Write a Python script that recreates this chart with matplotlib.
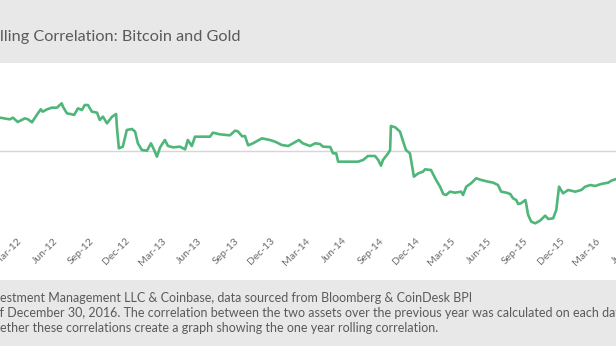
import pandas as pd
import matplotlib
matplotlib.use("Agg")
import matplotlib.pyplot as plt
import matplotlib.dates as mdates
from matplotlib.patches import Rectangle

# one year rolling correlation
dates = [
    "2012-01-03", "2012-01-28", "2012-02-05", "2012-02-17", "2012-03-06", "2012-03-14",
    "2012-03-24", "2012-03-26", "2012-04-05", "2012-04-15", "2012-04-20", "2012-05-01",
    "2012-05-13", "2012-05-26", "2012-06-02", "2012-06-07", "2012-06-10", "2012-06-20",
    "2012-07-03", "2012-07-08", "2012-07-18", "2012-07-28", "2012-08-04", "2012-08-12",
    "2012-08-22", "2012-09-04", "2012-09-11", "2012-09-19", "2012-09-29", "2012-10-12",
    "2012-10-22", "2012-10-24", "2012-10-29", "2012-11-08", "2012-11-18", "2012-12-01",
    "2012-12-09", "2012-12-16", "2012-12-26", "2013-01-08", "2013-01-18", "2013-01-26",
    "2013-02-02", "2013-02-10", "2013-02-22", "2013-03-02", "2013-03-15", "2013-04-01",
    "2013-04-14", "2013-04-21", "2013-05-01", "2013-05-09", "2013-06-16", "2013-06-23",
    "2013-07-11", "2013-08-05", "2013-08-18", "2013-08-25", "2013-09-05", "2013-09-12",
    "2013-09-20", "2013-10-02", "2013-10-25", "2013-11-14", "2013-11-27", "2013-12-14",
    "2013-12-30", "2014-01-11", "2014-01-26", "2014-02-05", "2014-02-23", "2014-03-08",
    "2014-03-20", "2014-03-28", "2014-04-15", "2014-04-22", "2014-04-30", "2014-05-05",
    "2014-05-12", "2014-06-24", "2014-07-07", "2014-07-19", "2014-08-06", "2014-08-14",
    "2014-08-21", "2014-08-26", "2014-09-08", "2014-09-13", "2014-09-15", "2014-09-26",
    "2014-10-08", "2014-10-16", "2014-10-23", "2014-11-02", "2014-11-12", "2014-11-23",
    "2014-12-05", "2014-12-10", "2014-12-25", "2015-01-07", "2015-01-17", "2015-01-25",
    "2015-02-01", "2015-02-11", "2015-02-24", "2015-03-11", "2015-03-16", "2015-03-24",
    "2015-04-05", "2015-04-18", "2015-05-01", "2015-05-18", "2015-05-31", "2015-06-12",
    "2015-06-20", "2015-07-03", "2015-07-13", "2015-07-20", "2015-07-28", "2015-08-02",
    "2015-08-09", "2015-08-20", "2015-08-22", "2015-08-27", "2015-09-04", "2015-09-14",
    "2015-09-26", "2015-10-09", "2015-10-17", "2015-10-29", "2015-11-06", "2015-11-13",
    "2015-11-23", "2015-12-06", "2015-12-24", "2016-01-08", "2016-01-18", "2016-01-31",
    "2016-02-12", "2016-02-27", "2016-03-16", "2016-03-24", "2016-04-03", "2016-04-15",
]
corr = [
    0.100, 0.095, 0.100, 0.087, 0.098, 0.095,
    0.086, 0.090, 0.108, 0.125, 0.118, 0.125,
    0.130, 0.130, 0.138, 0.143, 0.133, 0.113,
    0.110, 0.108, 0.128, 0.123, 0.138, 0.138,
    0.118, 0.115, 0.093, 0.103, 0.083, 0.103,
    0.111, 0.073, 0.008, 0.013, 0.063, 0.066,
    0.058, 0.023, 0.003, 0.001, 0.023, 0.003,
    -0.017, 0.011, 0.033, 0.015, 0.011, 0.013,
    0.005, 0.033, 0.015, 0.043, 0.043, 0.055,
    0.050, 0.047, 0.061, 0.059, 0.044, 0.045,
    0.017, 0.023, 0.038, 0.033, 0.028, 0.018,
    0.015, 0.023, 0.033, 0.023, 0.015, 0.023,
    0.021, 0.013, 0.012, -0.007, -0.007, -0.032,
    -0.032, -0.032, -0.027, -0.015, -0.015, -0.027,
    -0.044, -0.027, -0.007, 0.003, 0.075, 0.071,
    0.058, 0.028, 0.003, -0.007, -0.077, -0.067,
    -0.062, -0.055, -0.057, -0.087, -0.107, -0.129,
    -0.132, -0.122, -0.125, -0.122, -0.132, -0.107,
    -0.097, -0.082, -0.087, -0.092, -0.095, -0.102,
    -0.122, -0.125, -0.129, -0.142, -0.147, -0.159,
    -0.157, -0.147, -0.157, -0.192, -0.212, -0.217,
    -0.209, -0.194, -0.204, -0.202, -0.177, -0.107,
    -0.127, -0.117, -0.122, -0.117, -0.107, -0.102,
    -0.105, -0.099, -0.095, -0.089, -0.085, -0.080,
]

title = ("One Year Ro", "lling Correlation: Bitcoin and Gold")
footer = [
    ("Source: ARK Inv", "estment Management LLC & Coinbase, data sourced from Bloomberg & CoinDesk BPI"),
    ("Data as o", "f December 30, 2016. The correlation between the two assets over the previous year was calculated on each day and"),
    ("tog", "ether these correlations create a graph showing the one year rolling correlation."),
]

W, H = 616, 346
plt.rcParams["font.family"] = ["Lato", "DejaVu Sans"]
fig = plt.figure(figsize=(W / 100, H / 100), dpi=100)
fig.patch.set_facecolor("white")

# grey header / footer bands
fig.add_artist(Rectangle((0, 1 - 63 / H), 1, 63 / H, transform=fig.transFigure,
                         facecolor="#e8e8e8", edgecolor="none", zorder=0))
fig.add_artist(Rectangle((0, 0), 1, (H - 280) / H, transform=fig.transFigure,
                         facecolor="#e8e8e8", edgecolor="none", zorder=0))

# the chart is cropped on both sides, so the axes run past the figure edges
left_px, right_px, top_px, bot_px = -60, 680, 63, 232
ax = fig.add_axes([left_px / W, 1 - bot_px / H, (right_px - left_px) / W, (bot_px - top_px) / H])
ax.set_facecolor("white")

x = pd.to_datetime(dates)
ax.plot(x, corr, color="#4fb67a", lw=1.9, solid_joinstyle="round")
ax.axhline(0, color="#d6d6d6", lw=1, zorder=0)

ax.set_xlim(pd.Timestamp("2011-08-05"), pd.Timestamp("2016-09-13"))
ax.set_ylim(-0.243, 0.264)
ax.xaxis.set_major_locator(mdates.MonthLocator(bymonth=[3, 6, 9, 12], bymonthday=1))
ax.xaxis.set_major_formatter(mdates.DateFormatter("%b-%y"))
ax.tick_params(axis="x", length=0, pad=3, labelsize=7.5, labelcolor="#6b6b6b")
for lab in ax.get_xticklabels():
    lab.set_rotation(45)
    lab.set_ha("right")
    lab.set_va("top")
ax.set_yticks([])
for s in ax.spines.values():
    s.set_visible(False)

renderer = fig.canvas.get_renderer()


def cut_text(prefix, rest, x_px, y_px, **kw):
    # place prefix+rest so that `rest` starts at x_px (prefix falls off the left edge)
    probe = fig.text(0, 0, prefix, **kw)
    w = probe.get_window_extent(renderer).width
    probe.remove()
    fig.text((x_px - w) / W, 1 - y_px / H, prefix + rest, va="center", **kw)


cut_text(*title, 0, 37, fontsize=11.7, color="#5a5a5a")
for (pre, rest), y in zip(footer, [298, 313, 328]):
    cut_text(pre, rest, 0, y, fontsize=9, color="#5a5a5a")

fig.savefig("out.png", dpi=100)
